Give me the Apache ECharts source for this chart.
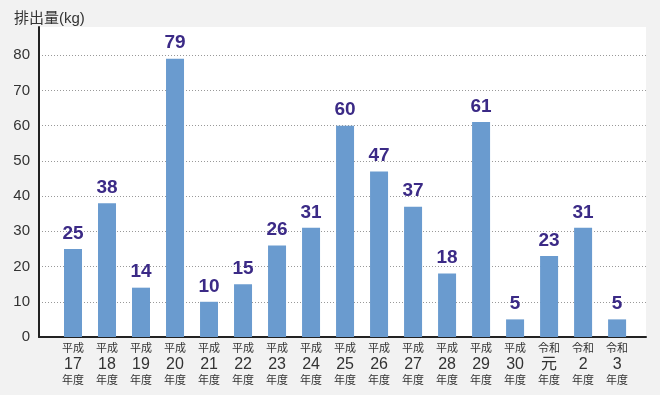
<!DOCTYPE html>
<html><head><meta charset="utf-8">
<script src="https://cdn.jsdelivr.net/npm/echarts@6/dist/echarts.min.js"></script>
<style>html,body{margin:0;padding:0;background:#f2f2f2;}#c{width:660px;height:395px;}</style>
</head><body><div id="c"></div>
<script>
const eras = ['平成','平成','平成','平成','平成','平成','平成','平成','平成','平成','平成','平成','平成','平成','令和','令和','令和'];
const years = ['17','18','19','20','21','22','23','24','25','26','27','28','29','30','元','2','3'];
const values = [25, 38, 14, 79, 10, 15, 26, 31, 60, 47, 37, 18, 61, 5, 23, 31, 5];
const yTicks = [0, 10, 20, 30, 40, 50, 60, 70, 80];

const font = '"Liberation Sans", "Noto Sans CJK JP", sans-serif';
const chart = echarts.init(document.getElementById('c'), null, {renderer: 'canvas'});
chart.setOption({
  backgroundColor: '#f2f2f2',
  animation: false,
  title: {text: '排出量(kg)', left: 9, top: 6, textStyle: {fontSize: 15, fontWeight: 'normal', color: '#333', fontFamily: font}},
  grid: {left: 39, right: 14, top: 27, bottom: 58, show: true, backgroundColor: '#fff', borderWidth: 0},
  xAxis: {
    type: 'value', min: -1, max: 16.85, interval: 1,
    axisLine: {show: true, onZero: false, lineStyle: {color: '#222', width: 2}},
    axisTick: {show: false},
    splitLine: {show: false},
    axisLabel: {
      showMinLabel: false, showMaxLabel: false, margin: 4,
      formatter: v => (Number.isInteger(v) && years[v] !== undefined) ? '{a|' + eras[v] + '}\n{b|' + years[v] + '}\n{a|年度}' : '',
      rich: {
        a: {fontSize: 11, lineHeight: 16, color: '#333', fontFamily: font},
        b: {fontSize: 16, lineHeight: 16, color: '#333', fontFamily: font}
      }
    }
  },
  yAxis: {
    type: 'value', min: 0, max: 88, interval: 10,
    axisLine: {show: true, onZero: false, lineStyle: {color: '#222', width: 2}},
    axisTick: {show: false},
    axisLabel: {showMaxLabel: false, margin: 9, fontSize: 15, color: '#333', fontFamily: font,
      formatter: v => yTicks.includes(v) ? String(v) : ''},
    splitLine: {show: true, showMinLine: false, showMaxLine: false, lineStyle: {color: '#999', type: [1, 2], width: 1}}
  },
  series: [{
    type: 'bar',
    barWidth: 18,
    data: values.map((v, i) => [i, v]),
    itemStyle: {color: '#6a9bcf'},
    label: {show: true, position: 'top', distance: 6, fontSize: 19, fontWeight: 'bold', color: '#3b2a86', fontFamily: font,
      formatter: p => String(p.value[1])}
  }]
});
</script></body></html>
